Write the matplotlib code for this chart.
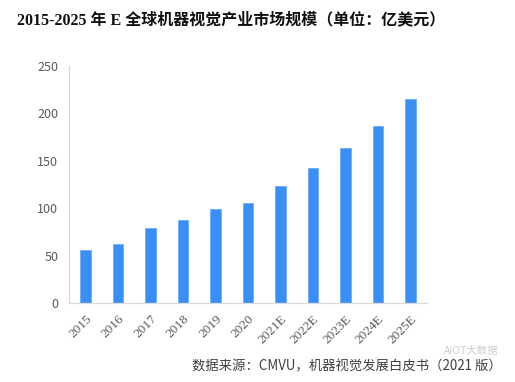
import matplotlib
matplotlib.use("Agg")
import matplotlib.pyplot as plt

plt.rcParams['font.family'] = ['Noto Sans CJK SC', 'DejaVu Sans']

years = ["2015", "2016", "2017", "2018", "2019", "2020",
         "2021E", "2022E", "2023E", "2024E", "2025E"]
values = [56, 62, 79, 88, 99, 106, 123, 142, 163, 187, 215]
yticks = [0, 50, 100, 150, 200, 250]

title = "2015-2025 年 E 全球机器视觉产业市场规模（单位：亿美元）"
source = "数据来源：CMVU，机器视觉发展白皮书（2021 版）"
watermark = "AIOT大数据"

fig = plt.figure(figsize=(5.15, 3.82), dpi=100)
ax = fig.add_axes([0.1346, 0.206, 0.694, 0.622])

x = list(range(len(years)))
ax.bar(x, values, width=0.32, color="#3A8FF7", edgecolor="#6AADF9", linewidth=0.6)

ax.set_xlim(-0.5, len(years) - 0.5)
ax.set_ylim(0, 250)
ax.set_yticks(yticks)
ax.set_yticklabels([str(t) for t in yticks], fontsize=9, color="#595959")
ax.set_xticks(x)
ax.set_xticklabels(years, rotation=45, ha="right", rotation_mode="anchor",
                   fontsize=9.5, color="#595959", family=["Liberation Serif"])
ax.tick_params(axis="y", length=0, pad=8)
ax.tick_params(axis="x", length=0, pad=7)

for s in ["top", "right"]:
    ax.spines[s].set_visible(False)
for s in ["left", "bottom"]:
    ax.spines[s].set_color("#D9D9D9")
    ax.spines[s].set_linewidth(0.9)

fig.text(0.033, 0.948, title, fontsize=11.5, fontweight="bold",
         family=["Liberation Serif", "Noto Sans CJK SC"], color="#111111",
         ha="left", va="center")
fig.text(0.975, 0.040, source, fontsize=9.6, color="#404040",
         ha="right", va="center")
fig.text(0.968, 0.080, watermark, fontsize=7.5, color="#C8C8C8",
         ha="right", va="center", alpha=0.9)

fig.savefig("out.png", dpi=100)
